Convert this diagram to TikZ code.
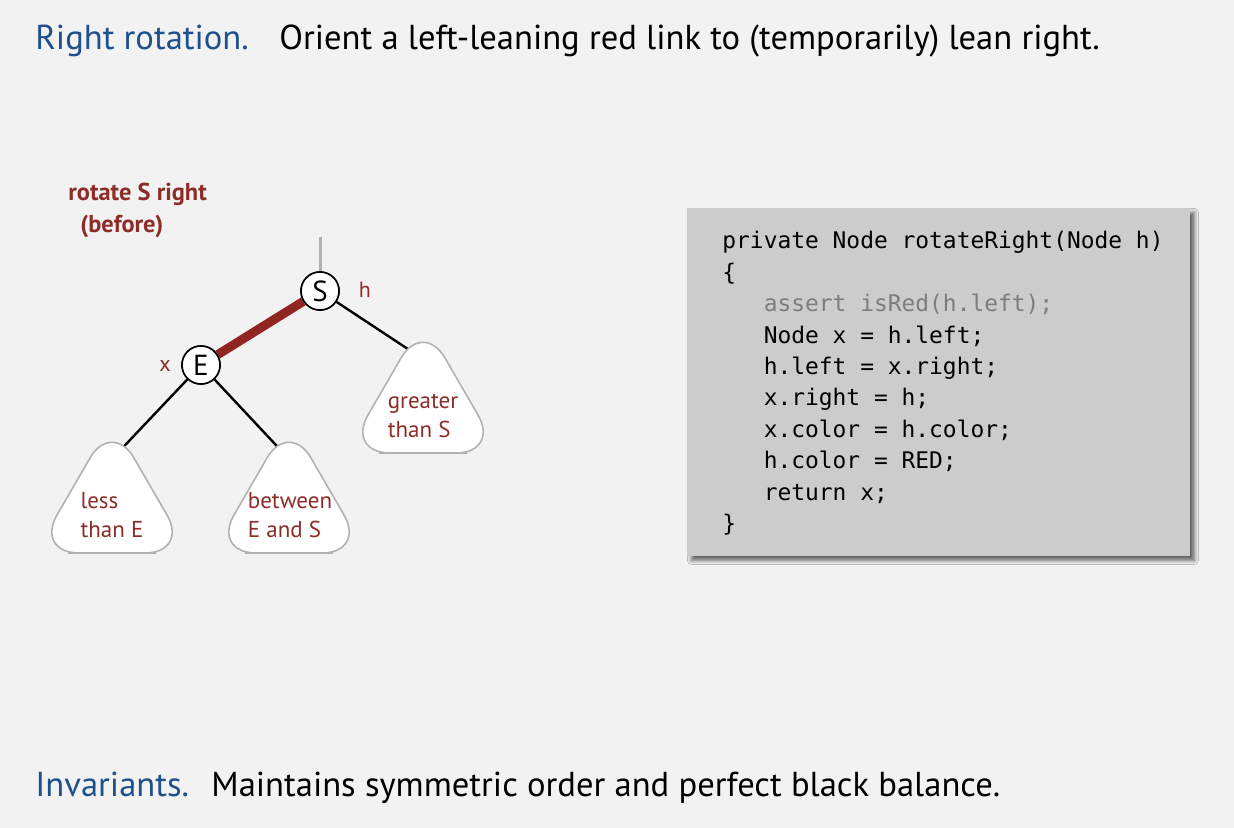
\documentclass[tikz,border=0pt]{standalone}
\usepackage{fontspec}
\setmainfont{PT Sans}
\setmonofont{DejaVu Sans Mono}
\usetikzlibrary{calc,positioning,shadows,shadows.blur}
\definecolor{slidebg}{RGB}{242,242,242}
\definecolor{titleblue}{RGB}{30,80,140}
\definecolor{linkred}{RGB}{145,38,32}
\definecolor{labelred}{RGB}{140,45,40}
\definecolor{codegray}{RGB}{204,204,204}
\definecolor{assertgray}{RGB}{125,125,125}
\tikzset{
  rbnode/.style ={circle, draw=black, fill=white, line width=0.8pt,
                  minimum size=19pt, inner sep=0pt, font=\fontsize{14.5}{14.5}\selectfont},
  blink/.style  ={line width=1.2pt, black},
  rlink/.style  ={line width=4.5pt, linkred},
  plink/.style  ={line width=1.5pt, black!30},
  subtree/.style={draw=black!30, fill=white, line width=0.8pt, rounded corners=22pt},
  stlabel/.style={align=left, text=labelred, font=\fontsize{11.5}{14.5}\selectfont},
  ptrlabel/.style={text=labelred, font=\fontsize{11}{12}\selectfont},
  caption/.style={align=left, inner sep=0pt, text=labelred,
                  font=\fontsize{12.2}{16}\selectfont\bfseries},
  headkey/.style={anchor=base west, inner sep=0pt, text=titleblue,
                  font=\fontsize{17.3}{20}\selectfont},
  headtxt/.style={anchor=base west, inner sep=0pt, font=\fontsize{17.3}{20}\selectfont},
  codebox/.style={fill=codegray, inner sep=0pt,
                  blur shadow={shadow xshift=2pt, shadow yshift=-2pt,
                               shadow blur steps=6, shadow opacity=60}},
  code/.style   ={align=left, inner sep=0pt, font=\fontsize{11.45}{15.7}\selectfont\ttfamily},
}

\begin{document}
\begin{tikzpicture}[x=0.5pt, y=-0.5pt]
  \fill[slidebg] (0,0) rectangle (1234,828);
  \useasboundingbox (0,0) rectangle (1234,828);

  % --- headline and footline ----------------------------------------------
  \node[headkey] (rrkey) at (35,50) {Right rotation.};
  \node[headtxt] (rrtxt) at (279,50) {Orient a left-leaning red link to (temporarily) lean right.};
  \node[headkey] (invkey) at (35,796) {Invariants.};
  \node[headtxt] (invtxt) at (211,796) {Maintains symmetric order and perfect black balance.};

  % --- the tree before the rotation ---------------------------------------
  \node[caption, anchor=north west] (cap) at (68,183) {rotate S right\\\hspace{6pt}(before)};
  \coordinate (parent) at (320,237);
  \node[rbnode] (S) at (320,291) {S};
  \node[rbnode] (E) at (201,365) {E};
  \node[ptrlabel] (h) at (365,290) {h};
  \node[ptrlabel] (x) at (165,366) {x};
  \coordinate (less)  at (112,459);
  \coordinate (betw)  at (289,459);
  \coordinate (great) at (423,359);

  \draw[plink] (parent) -- (S);
  \draw[rlink] (S) -- (E);
  \draw[blink] (S) -- (great);
  \draw[blink] (E) -- (less);
  \draw[blink] (E) -- (betw);

  % subtrees drawn over the link ends
  \foreach \cx/\ty in {112/443, 289/443, 423/343}
    \draw[subtree] (\cx,\ty+110) -- (\cx+77,\ty+110) -- (\cx,\ty-23)
      -- (\cx-77,\ty+110) -- cycle;
  \node[stlabel] (lesstxt)  at (112,515) {less\\than E};
  \node[stlabel] (betwtxt)  at (290,515) {between\\E and S};
  \node[stlabel] (greattxt) at (423,416) {greater\\than S};
  \node[rbnode] at (S) {S};
  \node[rbnode] at (E) {E};

  % --- the code -----------------------------------------------------------
  \node[codebox, anchor=north west, minimum width=251.5pt, minimum height=174pt]
    (box) at (687,208) {};
  \node[code, anchor=north west] (src) at (722,231)
    {private Node rotateRight(Node h)\\
     \{\\
     \hphantom{xxx}{\color{assertgray}assert isRed(h.left);}\\
     \hphantom{xxx}Node x = h.left;\\
     \hphantom{xxx}h.left = x.right;\\
     \hphantom{xxx}x.right = h;\\
     \hphantom{xxx}x.color = h.color;\\
     \hphantom{xxx}h.color = RED;\\
     \hphantom{xxx}return x;\\
     \}};
\end{tikzpicture}
\end{document}
